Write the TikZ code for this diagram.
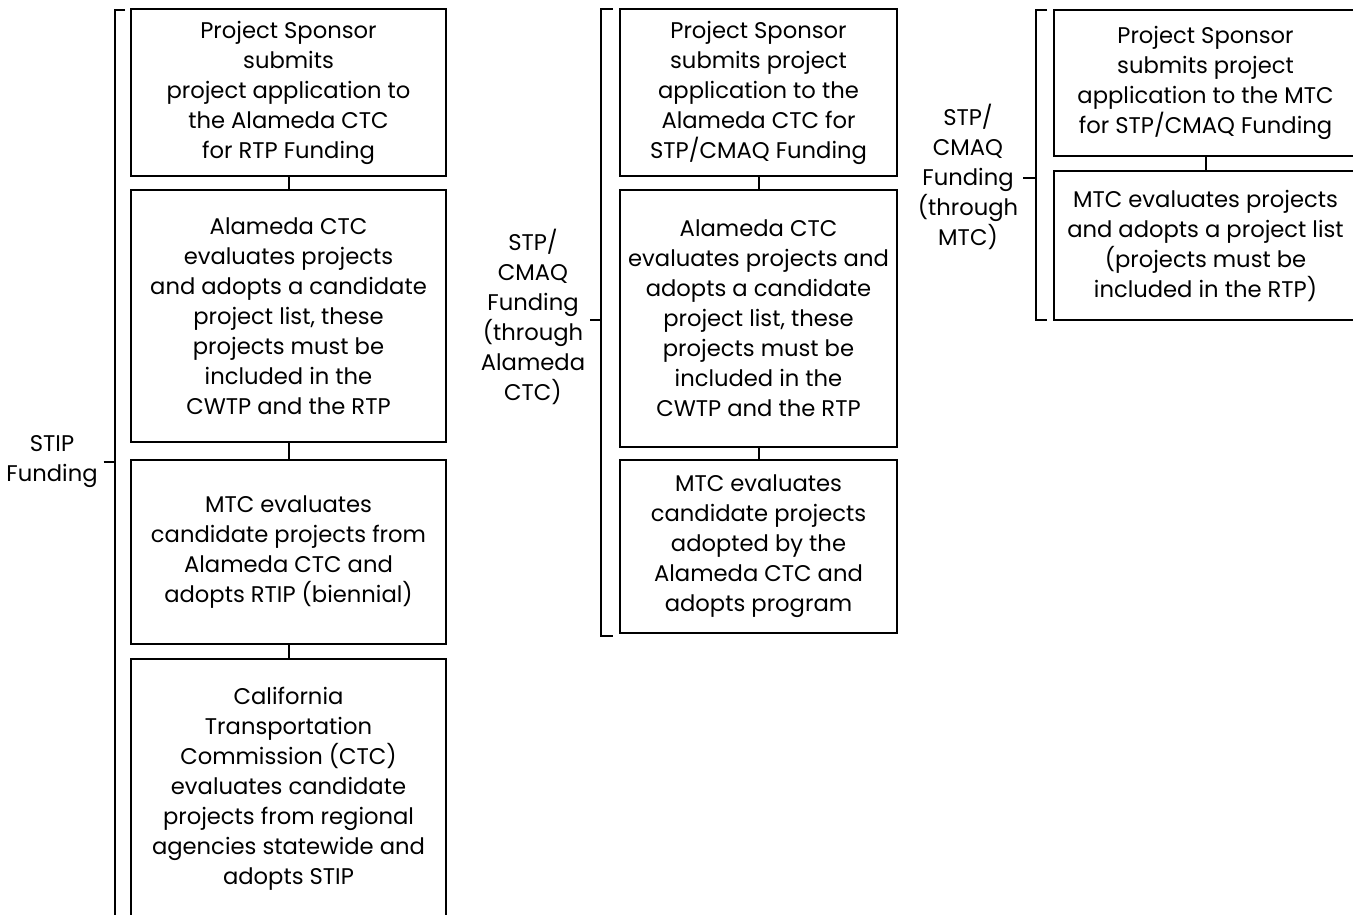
\documentclass[tikz,border=0pt]{standalone}
\usepackage{fontspec}
\setmainfont{Poppins}
\usepackage{tikz}
\usetikzlibrary{positioning, calc}

\begin{document}
\begin{tikzpicture}[x=0.75pt, y=-0.75pt]
        \tikzstyle{block} = [rectangle, draw, line width=2pt, align=center, inner sep=2pt, font=\fontsize{17}{22.5}\selectfont]
        \tikzstyle{label} = [align=center, inner sep=2pt, font=\fontsize{17}{22.5}\selectfont]
        \tikzstyle{line} = [draw, line width=1.5pt]
        \tikzstyle{brace} = [draw, line width=1.9pt]

        \useasboundingbox (0,0) rectangle (1353,914);

        % STIP column
        \node [block, minimum width=236.25pt, minimum height=125.25pt] (stip1) at (288.5,92.5) {Project Sponsor\\submits\\project application to\\the Alameda CTC\\for RTP Funding};
        \node [block, minimum width=236.25pt, minimum height=189pt] (stip2) at (288.5,316) {Alameda CTC\\evaluates projects\\and adopts a candidate\\project list, these\\projects must be\\included in the\\CWTP and the RTP};
        \node [block, minimum width=236.25pt, minimum height=138pt] (stip3) at (288.5,552) {MTC evaluates\\candidate projects from\\Alameda CTC and\\adopts RTIP (biennial)};
        \node [block, minimum width=236.25pt, minimum height=195pt] (stip4) at (288.5,789) {California\\Transportation\\Commission (CTC)\\evaluates candidate\\projects from regional\\agencies statewide and\\adopts STIP};

        \path [line] (stip1) -- (stip2);
        \path [line] (stip2) -- (stip3);
        \path [line] (stip3) -- (stip4);

        \node [label] (stiplbl) at (52,462) {STIP\\Funding};
        \coordinate (stiptop) at (125,10);
        \coordinate (stipbot) at (115,920);
        \path [brace] (stiptop) -- (stiptop -| stipbot) -- (stipbot);
        \path [brace] ($(stiplbl.east)+(3,0)$) -- (stiplbl.east -| stipbot);

        % STP/CMAQ through Alameda CTC
        \node [block, minimum width=207.75pt, minimum height=125.25pt] (acta1) at (758.5,92.5) {Project Sponsor\\submits project\\application to the\\Alameda CTC for\\STP/CMAQ Funding};
        \node [block, minimum width=207.75pt, minimum height=192.75pt] (acta2) at (758.5,318.5) {Alameda CTC\\evaluates projects and\\adopts a candidate\\project list, these\\projects must be\\included in the\\CWTP and the RTP};
        \node [block, minimum width=207.75pt, minimum height=129.75pt] (acta3) at (758.5,546.5) {MTC evaluates\\candidate projects\\adopted by the\\Alameda CTC and\\adopts program};

        \path [line] (acta1) -- (acta2);
        \path [line] (acta2) -- (acta3);

        \node [label] (actalbl) at (533,317) {STP/\\CMAQ\\Funding\\(through\\Alameda\\CTC)};
        \coordinate (actatop) at (613,9);
        \coordinate (actabot) at (613,636);
        \coordinate (actax) at (601,0);
        \path [brace] (actatop) -- (actatop -| actax) -- (actabot -| actax) -- (actabot);
        \path [brace] (590,320) -- (actax |- 0,320);

        % STP/CMAQ through MTC
        \node [block, minimum width=227.25pt, minimum height=109.5pt] (mtc1) at (1205.5,83) {Project Sponsor\\submits project\\application to the MTC\\for STP/CMAQ Funding};
        \node [block, minimum width=227.25pt, minimum height=111.75pt] (mtc2) at (1205.5,245.5) {MTC evaluates projects\\and adopts a project list\\(projects must be\\included in the RTP)};

        \path [line] (mtc1) -- (mtc2);

        \node [label] (mtclbl) at (968,177) {STP/\\CMAQ\\Funding\\(through\\MTC)};
        \coordinate (mtctop) at (1047,10);
        \coordinate (mtcbot) at (1047,320);
        \coordinate (mtcx) at (1036,0);
        \path [brace] (mtctop) -- (mtctop -| mtcx) -- (mtcbot -| mtcx) -- (mtcbot);
        \path [brace] (1023,178) -- (mtcx |- 0,178);
\end{tikzpicture}
\end{document}
